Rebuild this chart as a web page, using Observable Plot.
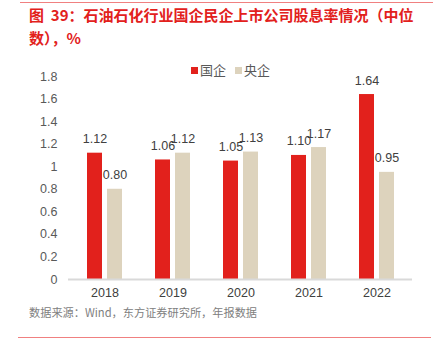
<!DOCTYPE html>
<html>
<head>
<meta charset="utf-8">
<script src="https://cdn.jsdelivr.net/npm/d3@7"></script>
<script src="https://cdn.jsdelivr.net/npm/@observablehq/plot@0.6"></script>
<style>
  html, body { margin: 0; padding: 0; background: #fff; }
  #wrap { position: relative; width: 441px; height: 352px; overflow: hidden; font-family: "Liberation Sans", Arial, sans-serif; }
  .rule { position: absolute; height: 1px; background: #f08080; }
  #title { position: absolute; left: 29px; top: 3px; font-family: "Noto Sans CJK SC", sans-serif; font-weight: bold; font-size: 15px; line-height: 23px; letter-spacing: 0px; color: #e2211c; white-space: nowrap; }
  #chart { position: absolute; left: 0; top: 60px; }
  #legend { position: absolute; left: 191px; top: 61px; font-family: "Noto Sans CJK SC", sans-serif; font-size: 13px; color: #595959; line-height: 18px; white-space: nowrap; }
  #legend .sw { display: inline-block; width: 7px; height: 7px; margin-right: 2px; vertical-align: 1px; }
  #caption { position: absolute; left: 29px; top: 304px; font-family: "Noto Sans CJK SC", sans-serif; font-size: 11.2px; line-height: 16px; color: #808080; white-space: nowrap; }
</style>
</head>
<body>
<div id="wrap">
  <div class="rule" style="left:20px; top:2px; width:413px;"></div>
  <div id="title">图&nbsp; 39：石油石化行业国企民企上市公司股息率情况（中位<br>数），%</div>
  <div id="chart"></div>
  <div id="legend"></div>
  <div id="caption">数据来源：Wind，东方证券研究所，年报数据</div>
  <div class="rule" style="left:18px; top:337px; width:413px;"></div>
</div>
<script>
const years = ["2018", "2019", "2020", "2021", "2022"];
const soeValues = [1.12, 1.06, 1.05, 1.10, 1.64];      // 国企
const centralValues = [0.80, 1.12, 1.13, 1.17, 0.95];  // 央企
const seriesNames = ["国企", "央企"];
const seriesColors = ["#e2211c", "#ddd3bd"];
const yTicks = [0, 0.2, 0.4, 0.6, 0.8, 1.0, 1.2, 1.4, 1.6, 1.8];

const soe = years.map((y, i) => ({year: y, value: soeValues[i]}));
const central = years.map((y, i) => ({year: y, value: centralValues[i]}));
const fmt2 = d => d.toFixed(2);

const chart = Plot.plot({
  width: 441,
  height: 245,
  marginLeft: 68,
  marginRight: 29,
  marginTop: 16,
  marginBottom: 26,
  style: {fontFamily: "'Liberation Sans', Arial, sans-serif", color: "#595959", background: "transparent"},
  x: {domain: years, paddingInner: 0.49, paddingOuter: 0.245},
  y: {domain: [0, 1.8]},
  marks: [
    Plot.barY(soe, {x: "year", y: "value", fill: seriesColors[0], insetRight: 20}),
    Plot.barY(central, {x: "year", y: "value", fill: seriesColors[1], insetLeft: 20}),
    Plot.ruleY([0], {stroke: "#d9d9d9", strokeWidth: 2}),
    Plot.text(soe, {x: "year", y: "value", text: d => fmt2(d.value), dx: -10, dy: -14, fontSize: 12.5, fill: "#404040"}),
    Plot.text(central, {x: "year", y: "value", text: d => fmt2(d.value), dx: 10, dy: -14, fontSize: 12.5, fill: "#404040"}),
    Plot.axisY({ticks: yTicks, tickSize: 0, tickPadding: 11, fontSize: 12.5, label: null, tickFormat: d => String(+d.toFixed(1))}),
    Plot.axisX({tickSize: 0, tickPadding: 9, fontSize: 12.5, label: null, fill: "#404040"})
  ]
});
document.getElementById("chart").appendChild(chart);

const legend = document.getElementById("legend");
seriesNames.forEach((name, i) => {
  const item = document.createElement("span");
  item.style.marginRight = "9px";
  const sw = document.createElement("span");
  sw.className = "sw";
  sw.style.background = seriesColors[i];
  item.appendChild(sw);
  item.appendChild(document.createTextNode(name));
  legend.appendChild(item);
});
</script>
</body>
</html>
